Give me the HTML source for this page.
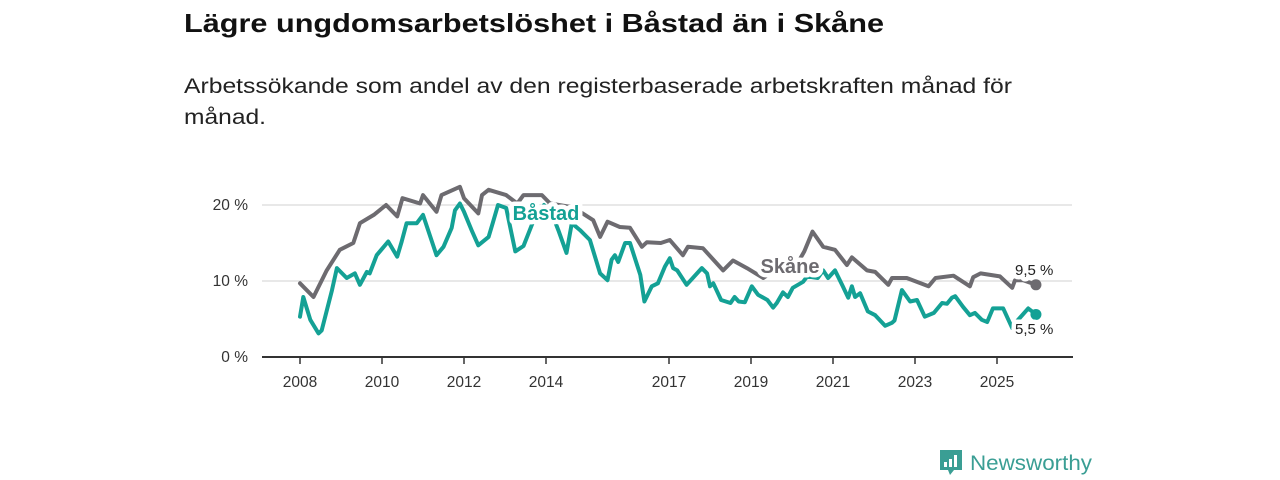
<!DOCTYPE html>
<html><head><meta charset="utf-8"><title>Ungdomsarbetslöshet Båstad</title>
<style>
html,body{margin:0;padding:0;background:#fff;}
svg{display:block;font-family:"Liberation Sans",sans-serif;}
.halo{paint-order:stroke;stroke:#fff;stroke-width:9px;stroke-linejoin:round;}
</style></head>
<body>
<svg id="chart" width="1280" height="480" viewBox="0 0 1280 480">
  <text x="184" y="32" font-size="26" font-weight="bold" fill="#111" textLength="700" lengthAdjust="spacingAndGlyphs">Lägre ungdomsarbetslöshet i Båstad än i Skåne</text>
  <text x="184" y="93" font-size="21" fill="#222" textLength="828" lengthAdjust="spacingAndGlyphs">Arbetssökande som andel av den registerbaserade arbetskraften månad för</text>
  <text x="184" y="124" font-size="21" fill="#222" textLength="82" lengthAdjust="spacingAndGlyphs">månad.</text>
  <g id="grid"></g>
  <g id="axes"></g>
  <g id="series"></g>
  <g id="labels"></g>
  <g>
    <path d="M940 450 h22 v20 h-8 l-4 5 l-2 -5 h-8 z" fill="#3a9e94"/>
    <rect x="944" y="462" width="3" height="5" fill="#fff"/>
    <rect x="949" y="459" width="3" height="8" fill="#fff"/>
    <rect x="954" y="455" width="3" height="12" fill="#fff"/>
    <text x="970" y="470" font-size="21" fill="#3a9e94" textLength="122" lengthAdjust="spacingAndGlyphs">Newsworthy</text>
  </g>
</svg>
<script>
const yTicks = [0, 10, 20];
const xTickYears = [2008, 2010, 2012, 2014, 2017, 2019, 2021, 2023, 2025];
const skaneDates = [2008.0,2008.33,2008.65,2008.97,2009.3,2009.46,2009.8,2010.1,2010.37,2010.5,2010.93,2011.0,2011.33,2011.45,2011.9,2012.0,2012.35,2012.44,2012.6,2013.03,2013.3,2013.45,2013.9,2014.1,2014.66,2015.15,2015.32,2015.5,2015.8,2016.05,2016.34,2016.46,2016.8,2017.02,2017.34,2017.46,2017.83,2018.32,2018.56,2018.9,2019.3,2019.6,2019.9,2020.1,2020.3,2020.5,2020.76,2021.05,2021.34,2021.46,2021.83,2022.03,2022.35,2022.44,2022.8,2023.33,2023.5,2023.94,2024.34,2024.42,2024.6,2025.07,2025.37,2025.44,2025.64,2025.95];
const skaneValues = [9.7,7.9,11.4,14.1,15.0,17.6,18.7,20.0,18.5,20.9,20.2,21.3,19.1,21.3,22.4,20.9,18.9,21.3,22.0,21.3,20.2,21.3,21.3,20.2,19.7,18.0,15.8,17.8,17.1,17.0,14.5,15.1,15.0,15.4,13.4,14.5,14.3,11.4,12.7,11.7,10.4,11.5,11.8,12.0,13.9,16.5,14.5,14.1,12.1,13.1,11.4,11.2,9.5,10.4,10.4,9.3,10.4,10.7,9.3,10.5,11.0,10.6,9.1,10.1,10.1,9.5];
const bastadDates = [2008.0,2008.08,2008.25,2008.45,2008.53,2008.78,2008.9,2009.14,2009.34,2009.46,2009.63,2009.7,2009.87,2010.15,2010.37,2010.48,2010.6,2010.85,2011.0,2011.33,2011.5,2011.7,2011.78,2011.9,2012.0,2012.2,2012.35,2012.6,2012.7,2012.83,2013.03,2013.25,2013.45,2013.7,2013.95,2014.17,2014.3,2014.5,2014.63,2014.83,2015.07,2015.32,2015.5,2015.6,2015.68,2015.76,2015.93,2016.05,2016.3,2016.4,2016.58,2016.73,2016.9,2017.02,2017.1,2017.2,2017.43,2017.8,2017.93,2018.0,2018.08,2018.27,2018.5,2018.6,2018.7,2018.85,2019.02,2019.17,2019.4,2019.54,2019.63,2019.78,2019.9,2020.02,2020.27,2020.37,2020.63,2020.76,2020.88,2021.05,2021.24,2021.37,2021.46,2021.54,2021.66,2021.85,2022.03,2022.27,2022.44,2022.5,2022.68,2022.88,2023.05,2023.24,2023.46,2023.66,2023.78,2023.9,2023.98,2024.17,2024.34,2024.46,2024.63,2024.76,2024.9,2025.15,2025.37,2025.5,2025.76,2025.95];
const bastadValues = [5.3,7.9,4.9,3.1,3.5,8.8,11.7,10.4,11.0,9.5,11.2,11.0,13.4,15.2,13.2,15.2,17.6,17.6,18.7,13.4,14.5,17.0,19.3,20.2,19.1,16.5,14.7,15.8,17.6,20.0,19.6,13.9,14.6,18.0,20.0,18.5,16.7,13.7,17.6,16.7,15.4,11.0,10.1,12.8,13.4,12.5,15.0,15.0,10.8,7.3,9.3,9.7,11.9,13.0,11.7,11.4,9.5,11.7,11.0,9.3,9.7,7.5,7.1,7.9,7.3,7.2,9.3,8.2,7.5,6.5,7.1,8.5,7.9,9.1,9.9,10.6,10.4,11.4,10.4,11.4,9.3,7.8,9.3,7.9,8.4,6.0,5.5,4.1,4.5,4.8,8.8,7.3,7.5,5.3,5.8,7.1,7.0,7.8,8.0,6.6,5.5,5.8,4.9,4.6,6.4,6.4,3.8,4.8,6.4,5.6];
const lastLabels = ["9,5 %", "5,5 %"];

const NS = "http://www.w3.org/2000/svg";
const X0 = 300, PX_PER_YEAR = 41, Y0 = 357, PX_PER_PCT = 7.6;
const xs = v => X0 + (v - 2008) * PX_PER_YEAR;
const ys = v => Y0 - v * PX_PER_PCT;
function mk(tag, attrs, parent) {
  const e = document.createElementNS(NS, tag);
  for (const k in attrs) e.setAttribute(k, attrs[k]);
  parent.appendChild(e);
  return e;
}
const grid = document.getElementById('grid');
const axes = document.getElementById('axes');
const series = document.getElementById('series');
const labels = document.getElementById('labels');

yTicks.forEach(t => {
  if (t > 0) {
    const l = mk('line', {x1: 262, x2: 1072, y1: ys(t), y2: ys(t), stroke: '#d9d9d9', 'stroke-width': 1.3}, grid);
    
    
  }
  const tx = mk('text', {x: 248, y: ys(t) + 5, 'text-anchor': 'end', 'font-size': 15.5, fill: '#333'}, axes);
  tx.textContent = t + ' %';
  
  
});
const base = mk('line', {x1: 262, x2: 1073, y1: Y0, y2: Y0, stroke: '#333', 'stroke-width': 2}, axes);


xTickYears.forEach(yr => {
  const tk = mk('line', {x1: xs(yr), x2: xs(yr), y1: Y0, y2: Y0 + 7, stroke: '#333', 'stroke-width': 1.5}, axes);
  
  
  const tx = mk('text', {x: xs(yr), y: Y0 + 30, 'text-anchor': 'middle', 'font-size': 15.5, fill: '#333'}, axes);
  tx.textContent = yr;
  
  
});

function drawLine(dates, vals, color, name) {
  const d = dates.map((t, i) => (i ? 'L' : 'M') + xs(t).toFixed(1) + ' ' + ys(vals[i]).toFixed(1)).join(' ');
  const p = mk('path', {d: d, fill: 'none', stroke: color, 'stroke-width': 4, 'stroke-linejoin': 'round', 'stroke-linecap': 'round'}, series);
  
  
  const n = dates.length - 1;
  const c = mk('circle', {cx: xs(dates[n]), cy: ys(vals[n]), r: 5.5, fill: color}, series);
  
  
}
drawLine(skaneDates, skaneValues, '#6d6b70', 'skane');
drawLine(bastadDates, bastadValues, '#14a195', 'bastad');

function label(txt, x, y, opts, name) {
  const t = mk('text', Object.assign({x: x, y: y, class: 'halo'}, opts), labels);
  t.textContent = txt;
  
  
}
label('Båstad', 546, 220, {'text-anchor': 'middle', 'font-size': 20, 'font-weight': 'bold', fill: '#14a195'}, 'bastad-series-label');
label('Skåne', 790, 273, {'text-anchor': 'middle', 'font-size': 20, 'font-weight': 'bold', fill: '#6d6b70'}, 'skane-series-label');
label(lastLabels[0], 1015, 275, {'font-size': 15, fill: '#222'}, 'skane-last-value');
label(lastLabels[1], 1015, 334, {'font-size': 15, fill: '#222'}, 'bastad-last-value');
</script>
</body></html>
